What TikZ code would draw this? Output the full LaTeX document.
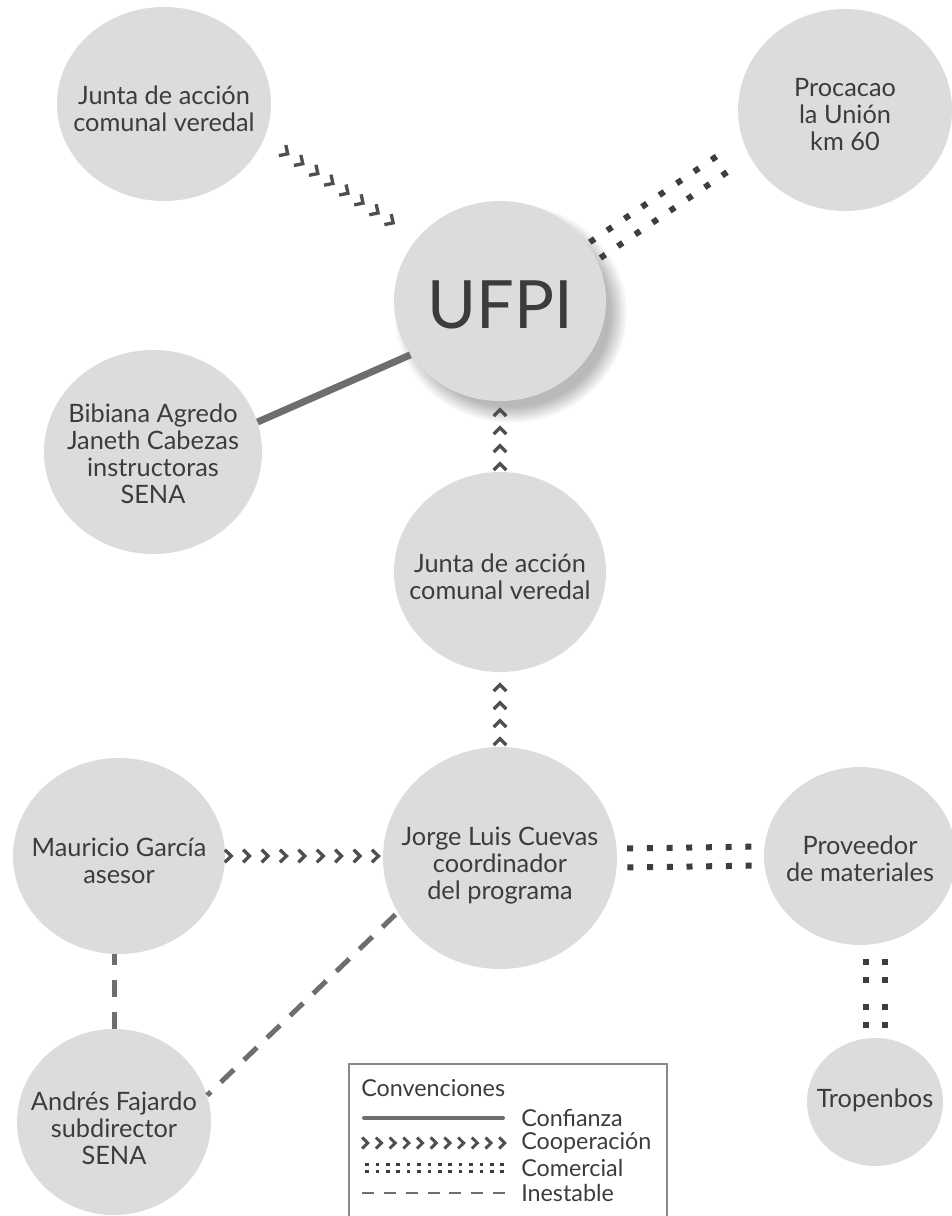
\documentclass[tikz,border=0pt]{standalone}
\usepackage{fontspec}
\setmainfont{Lato}
\usetikzlibrary{shapes.geometric,decorations.markings,shadows,calc}

\definecolor{circfill}{HTML}{DCDCDE}
\definecolor{txtc}{HTML}{3C3C3C}
\definecolor{coopc}{HTML}{4F4F4F}
\definecolor{commc}{HTML}{3E3E3E}
\definecolor{linec}{HTML}{6E6E70}
\definecolor{boxc}{HTML}{8A8A8A}

\newcommand\chevmark{\draw[coopc, line width=2.5pt, line cap=butt, line join=miter] (-3.4,-6.3) -- (3,0) -- (-3.4,6.3);}
\newcommand\smallchevmark{\draw[coopc, line width=2.2pt, line cap=butt, line join=miter] (-3,-5.5) -- (2.6,0) -- (-3,5.5);}
\newcommand\commmark{\fill[commc] (-3,-12.5) rectangle (3,-6.5); \fill[commc] (-3,6.5) rectangle (3,12.5);}
\newcommand\smallcommmark{\fill[commc] (-1.8,-5.2) rectangle (1.8,-1.6); \fill[commc] (-1.8,1.6) rectangle (1.8,5.2);}

\tikzset{
  circ/.style={ellipse, fill=circfill, draw=none, inner sep=0pt},
  sz/.style 2 args={minimum width=#1*0.75pt, minimum height=#2*0.75pt},
  txt/.style={align=center, text=txtc, inner sep=0pt, font=\fontsize{19}{20.25}\selectfont},
  legtxt/.style={text=txtc, inner sep=0pt, anchor=west, font=\fontsize{17.5}{18}\selectfont},
  conf/.style={draw=linec, line width=5.25pt},
  inest/.style={draw=linec, line width=3.75pt, dash pattern=on 12.75pt off 11.25pt},
  coop/.style n args={3}{decorate, decoration={markings, mark=between positions #1 and #3 step #2 with {\chevmark}}},
  comm/.style n args={3}{decorate, decoration={markings, mark=between positions #1 and #3 step #2 with {\commmark}}},
}

\begin{document}
\begin{tikzpicture}[x=0.75pt,y=-0.75pt]
\useasboundingbox (0,0) rectangle (952,1216);
\clip (0,0) rectangle (952,1216);
\fill[white] (0,0) rectangle (952,1216);

% circles
\node[circ, sz={214}{194}] (j1) at (164,104) {};
\node[circ, sz={214}{202}] (proc) at (845,110) {};
\node[circ, sz={212}{200}, circular drop shadow={shadow xshift=7pt, shadow yshift=-8pt, shadow scale=1.1, opacity=0.55}] (ufpi) at (500,301) {};
\node[circ, sz={218}{204}] (bib) at (153,452) {};
\node[circ, sz={212}{200}] (j2) at (500,572) {};
\node[circ, sz={212}{196}] (mau) at (119,856) {};
\node[circ, sz={234}{222}] (jor) at (500,858) {};
\node[circ, sz={192}{178}] (prov) at (860,856) {};
\node[circ, sz={194}{186}] (andr) at (114,1122) {};
\node[circ, sz={136}{128}] (trop) at (875,1102) {};

% texts
\node[txt] (j1t) at ($(j1)+(0,5)$) {Junta de acción\\comunal veredal};
\node[txt] (proct) at ($(proc)+(0,5)$) {Procacao\\la Unión\\km 60};
\node[txt, font=\fontsize{50}{56}\selectfont] (ufpit) at ($(ufpi)+(0,4)$) {UFPI};
\node[txt] (bibt) at ($(bib)+(0,2)$) {Bibiana Agredo\\Janeth Cabezas\\instructoras\\SENA};
\node[txt] (j2t) at ($(j2)+(0,5)$) {Junta de acción\\comunal veredal};
\node[txt] (maut) at ($(mau)+(0,5)$) {Mauricio García\\asesor};
\node[txt] (jort) at ($(jor)+(0,8)$) {Jorge Luis Cuevas\\coordinador\\del programa};
\node[txt] (provt) at ($(prov)+(0,3)$) {Proveedor\\de materiales};
\node[txt] (andrt) at ($(andr)+(0,6)$) {Andrés Fajardo\\subdirector\\SENA};
\node[txt] (tropt) at ($(trop)+(0,-2)$) {Tropenbos};

% confianza
\draw[conf] (bib.16) -- (ufpi.211);

% cooperación
\path[coop={18.75pt}{13.5pt}{115pt}] (j1.-19) -- (ufpi.143);
\path[coop={3.75pt}{13.5pt}{46pt}] (j2.90) -- (ufpi.270);
\path[coop={3.75pt}{13.5pt}{46pt}] (jor.90) -- (j2.270);
\path[coop={2.2pt}{13.8pt}{113pt}] (mau.east) -- (mau.east -| jor.west);

% comercial
\path[comm={4.5pt}{15.75pt}{117pt}] (ufpi.28) -- (proc.201);
\path[comm={9.75pt}{14.775pt}{100pt}] (jor.east) -- (prov.west);
\path[decorate, decoration={markings,
  mark=at position 12.75pt with {\commmark},
  mark=at position 26.25pt with {\commmark},
  mark=at position 46.5pt with {\commmark},
  mark=at position 60pt with {\commmark}}] (trop.north |- prov.south) -- (trop.north);

% inestable
\draw[inest] (andr.north) -- (andr.north |- mau.south);
\draw[inest, dash pattern=on 13.5pt off 10.5pt, dash phase=9.75pt] (andr.16) -- (jor.208);

% legend
\draw[boxc, line width=1.1pt] (349,1064) rectangle (667,1240);
\node[legtxt] (lconv) at (361,1088) {Convenciones};
\coordinate (l1a) at (364,1118); \coordinate (l1b) at (503,1118);
\coordinate (l2a) at (362,1143); \coordinate (l2b) at (505,1143);
\coordinate (l3a) at (362,1168); \coordinate (l3b) at (505,1168);
\coordinate (l4a) at (362,1193); \coordinate (l4b) at (505,1193);
\draw[linec, line width=3pt, line cap=round] (l1a) -- (l1b);
\path[decorate, decoration={markings, mark=between positions 2.4pt and 106pt step 10.275pt with {\smallchevmark}}] (l2a) -- (l2b);
\path[decorate, decoration={markings, mark=between positions 3.75pt and 106pt step 7.8pt with {\smallcommmark}}] (l3a) -- (l3b);
\draw[linec, line width=2pt, dash pattern=on 9pt off 7.375pt] (l4a) -- (l4b);
\node[legtxt] (lconf) at (521,1118) {Confianza};
\node[legtxt] (lcoop) at (521,1143) {Cooperación};
\node[legtxt] (lcomm) at (521,1168) {Comercial};
\node[legtxt] (linest) at (521,1193) {Inestable};
\end{tikzpicture}
\end{document}
